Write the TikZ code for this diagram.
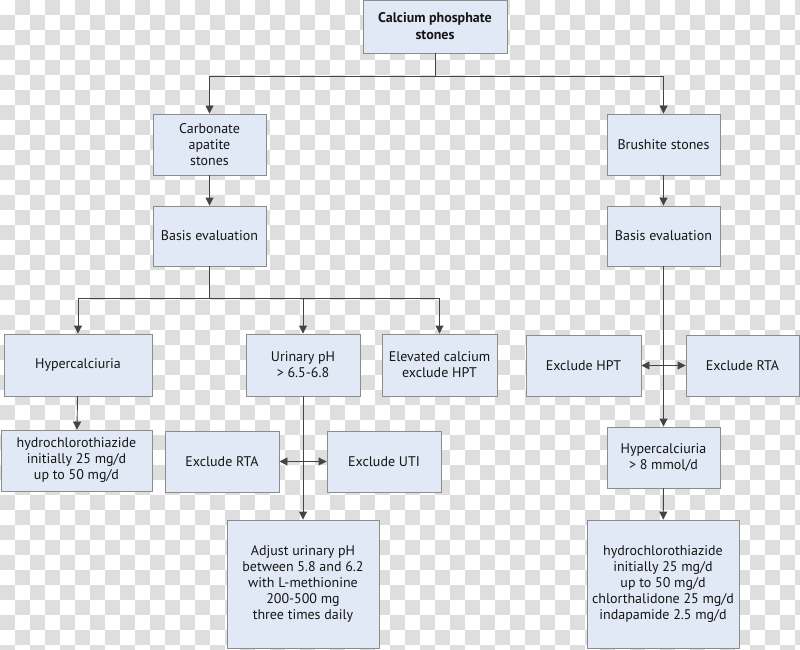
\documentclass[tikz,border=0pt]{standalone}
\usepackage{fontspec}
\setmainfont{PT Sans}
\usetikzlibrary{arrows.meta}
\definecolor{boxfill}{HTML}{E2E9F6}
\definecolor{boxdraw}{HTML}{8C8C8C}
\definecolor{linec}{HTML}{444444}
\definecolor{checker}{HTML}{DEDEDE}
\definecolor{txt}{HTML}{151515}
\tikzset{
  box/.style={draw=boxdraw, fill=boxfill, line width=0.9pt, inner sep=0pt,
    align=center, text=txt, font=\fontsize{14}{16}\selectfont},
  conn/.style={draw=linec, line width=0.9pt},
  arr/.style={conn, -{Triangle[length=8pt,width=8pt]}},
  darr/.style={conn, {Triangle[length=8pt,width=8pt]}-{Triangle[length=8pt,width=8pt]}}
}
\begin{document}
\begin{tikzpicture}[x=1pt,y=-1pt]
\useasboundingbox (0,0) rectangle (800,650);
% checkerboard background
\fill[white] (0,0) rectangle (800,650);
\begin{scope}
\clip (0,0) rectangle (800,650);
\foreach \x in {15,45,...,795} \foreach \y in {0,30,...,645} \fill[checker] (\x,\y) rectangle ++(15,15);
\foreach \x in {0,30,...,795} \foreach \y in {15,45,...,645} \fill[checker] (\x,\y) rectangle ++(15,15);
\end{scope}
% nodes
\node[box, minimum width=144, minimum height=53, font=\fontsize{14}{17}\selectfont\bfseries] (top) at (435,26.5) {Calcium phosphate\\stones};
\node[box, minimum width=113, minimum height=61] (carb) at (209.5,144.5) {Carbonate\\apatite\\stones};
\node[box, minimum width=113, minimum height=60] (basisL) at (209.5,236) {Basis evaluation};
\node[box, minimum width=113, minimum height=61] (brush) at (663.5,144.5) {Brushite stones};
\node[box, minimum width=113, minimum height=60] (basisR) at (663.5,236) {Basis evaluation};
\node[box, minimum width=148, minimum height=62] (hyper) at (78,365) {Hypercalciuria};
\node[box, minimum width=114, minimum height=62] (urin) at (303,365) {Urinary pH\\> 6.5-6.8};
\node[box, minimum width=115, minimum height=62] (elev) at (439.5,365) {Elevated calcium\\exclude HPT};
\node[box, minimum width=151, minimum height=61] (hctzL) at (76.5,460.5) {hydrochlorothiazide\\initially 25 mg/d\\up to 50 mg/d};
\node[box, minimum width=114, minimum height=61] (rtaL) at (222,461.5) {Exclude RTA};
\node[box, minimum width=114, minimum height=61] (uti) at (384,461.5) {Exclude UTI};
\node[box, minimum width=152, minimum height=128] (adjust) at (303,584) {Adjust urinary pH\\between 5.8 and 6.2\\with L-methionine\\200-500 mg\\three times daily};
\node[box, minimum width=115, minimum height=61] (hpt) at (583.5,365.5) {Exclude HPT};
\node[box, minimum width=113, minimum height=61] (rtaR) at (742.5,365.5) {Exclude RTA};
\node[box, minimum width=113, minimum height=61] (hyperR) at (663.5,457.5) {Hypercalciuria\\> 8 mmol/d};
\node[box, minimum width=152, minimum height=128] (hctzR) at (663,584) {hydrochlorothiazide\\initially 25 mg/d\\up to 50 mg/d\\chlorthalidone 25 mg/d\\indapamide 2.5 mg/d};
% connectors
\draw[arr] (top.south) -- ++(0,23) -| (carb.north);
\draw[arr] (top.south) -- ++(0,23) -| (brush.north);
\draw[arr] (carb) -- (basisL);
\draw[arr] (brush) -- (basisR);
\draw[arr] (basisL.south) -- ++(0,32) -| (hyper.north);
\draw[arr] (basisL.south) -- ++(0,32) -| (urin.north);
\draw[arr] (basisL.south) -- ++(0,32) -| (elev.north);
\draw[arr] (hyper) -- (hctzL);
\draw[arr] (urin) -- (adjust);
\draw[darr] (rtaL) -- (uti);
\draw[arr] (basisR) -- (hyperR);
\draw[darr] (hpt) -- (rtaR);
\draw[arr] (hyperR) -- (hctzR);
\end{tikzpicture}
\end{document}
